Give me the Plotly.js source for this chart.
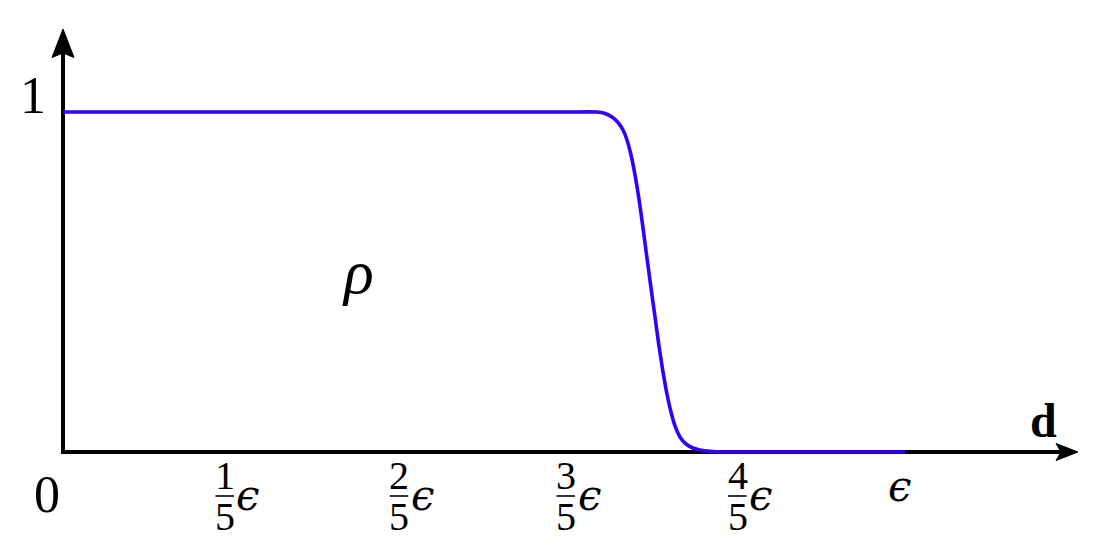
<!DOCTYPE html>
<html>
<head>
<meta charset="utf-8">
<script src="https://cdn.plot.ly/plotly-3.0.1.min.js"></script>
<style>html,body{margin:0;padding:0;background:#fff;}#chart{width:1102px;height:545px;}</style>
</head>
<body>
<div id="chart"></div>
<script>
// ---- data (x in units of epsilon, rho dimensionless) ----
const dValues   = [0, 0.3, 0.6, 0.6357, 0.6452, 0.6536, 0.6607, 0.6667, 0.6714, 0.6762, 0.6810, 0.6857, 0.6905, 0.6952, 0.7000, 0.7048, 0.7095, 0.7143, 0.7190, 0.7238, 0.7286, 0.7345, 0.7417, 0.7500, 0.7583, 0.7702, 0.7881, 0.9, 1.0024];
const rhoValues = [1, 1, 1, 1, 0.9956, 0.9853, 0.9691, 0.9471, 0.9176, 0.8735, 0.8147, 0.7441, 0.6588, 0.5706, 0.4824, 0.3971, 0.3118, 0.2353, 0.1706, 0.1176, 0.0765, 0.0441, 0.0235, 0.0118, 0.0059, 0.0021, 0, 0, 0];
const tickPos   = [0.2065, 0.414, 0.6125, 0.8167, 0.9964];
const tickNum   = ['1', '2', '3', '4', ''];
const tickDen   = ['5', '5', '5', '5', ''];
const yTickLabel = '1';
const originLabel = '0';
const curveLabel = 'ρ';
const axisLabel = 'd';

// ---- pixel <-> data helpers for layout placement ----
const X = px => (px - 63) / 840;
const Y = py => (452 - py) / 340;
const FONT = 'Liberation Serif, DejaVu Serif, serif';
const EPS = '<i>ϵ</i>';

const annotations = [];
const shapes = [];
function txt(px, py, text, size, family) {
  annotations.push({
    x: X(px), y: Y(py), xref: 'x', yref: 'y', text: text, showarrow: false,
    xanchor: 'center', yanchor: 'middle', font: {family: family || FONT, size: size, color: '#000'}
  });
}

// tick labels
tickPos.forEach((t, i) => {
  const cx = 63 + t * 840;
  if (tickNum[i]) {
    txt(cx - 11.5, 475, tickNum[i], 40);
    txt(cx - 11.5, 516, tickDen[i], 40);
    shapes.push({type: 'line', xref: 'x', yref: 'y', x0: X(cx - 21), x1: X(cx - 2.5), y0: Y(496), y1: Y(496),
      line: {color: '#000', width: 1.6}});
    txt(cx + 12, 495, EPS, 42, 'DejaVu Serif');
  } else {
    txt(cx, 486, EPS, 42, 'DejaVu Serif');
  }
});
txt(47, 494, originLabel, 52);
txt(33, 95, yTickLabel, 52);
txt(358, 272, '<i>' + curveLabel + '</i>', 62);
txt(1043, 420, '<b>' + axisLabel + '</b>', 48);

// axes with arrowheads
shapes.push({type: 'line', xref: 'x', yref: 'y', x0: X(61), x1: X(1062), y0: 0, y1: 0, line: {color: '#000', width: 4}, layer: 'below'});
shapes.push({type: 'line', xref: 'x', yref: 'y', x0: 0, x1: 0, y0: Y(454), y1: Y(52), line: {color: '#000', width: 4}, layer: 'below'});
function poly(pts) {
  return 'M' + pts.map(p => X(p[0]) + ',' + Y(p[1])).join(' L') + ' Z';
}
shapes.push({type: 'path', xref: 'x', yref: 'y', path: poly([[1078, 452], [1056, 443.5], [1061, 452], [1056, 460.5]]),
  fillcolor: '#000', line: {color: '#000', width: 1}, layer: 'below'});
shapes.push({type: 'path', xref: 'x', yref: 'y', path: poly([[63, 29], [52, 57.5], [63, 53], [74, 57.5]]),
  fillcolor: '#000', line: {color: '#000', width: 1}, layer: 'below'});

const trace = {
  x: dValues, y: rhoValues, type: 'scatter', mode: 'lines',
  line: {color: 'rgb(51,0,255)', width: 3.6, shape: 'spline', smoothing: 0.5},
  hoverinfo: 'skip'
};

const layout = {
  width: 1102, height: 545, autosize: false,
  margin: {l: 0, r: 0, t: 0, b: 0, pad: 0},
  paper_bgcolor: '#fff', plot_bgcolor: '#fff',
  showlegend: false,
  xaxis: {range: [X(0), X(1102)], visible: false, fixedrange: true},
  yaxis: {range: [Y(545), Y(0)], visible: false, fixedrange: true},
  annotations: annotations,
  shapes: shapes
};

Plotly.newPlot('chart', [trace], layout, {displayModeBar: false, staticPlot: true});
</script>
</body>
</html>
